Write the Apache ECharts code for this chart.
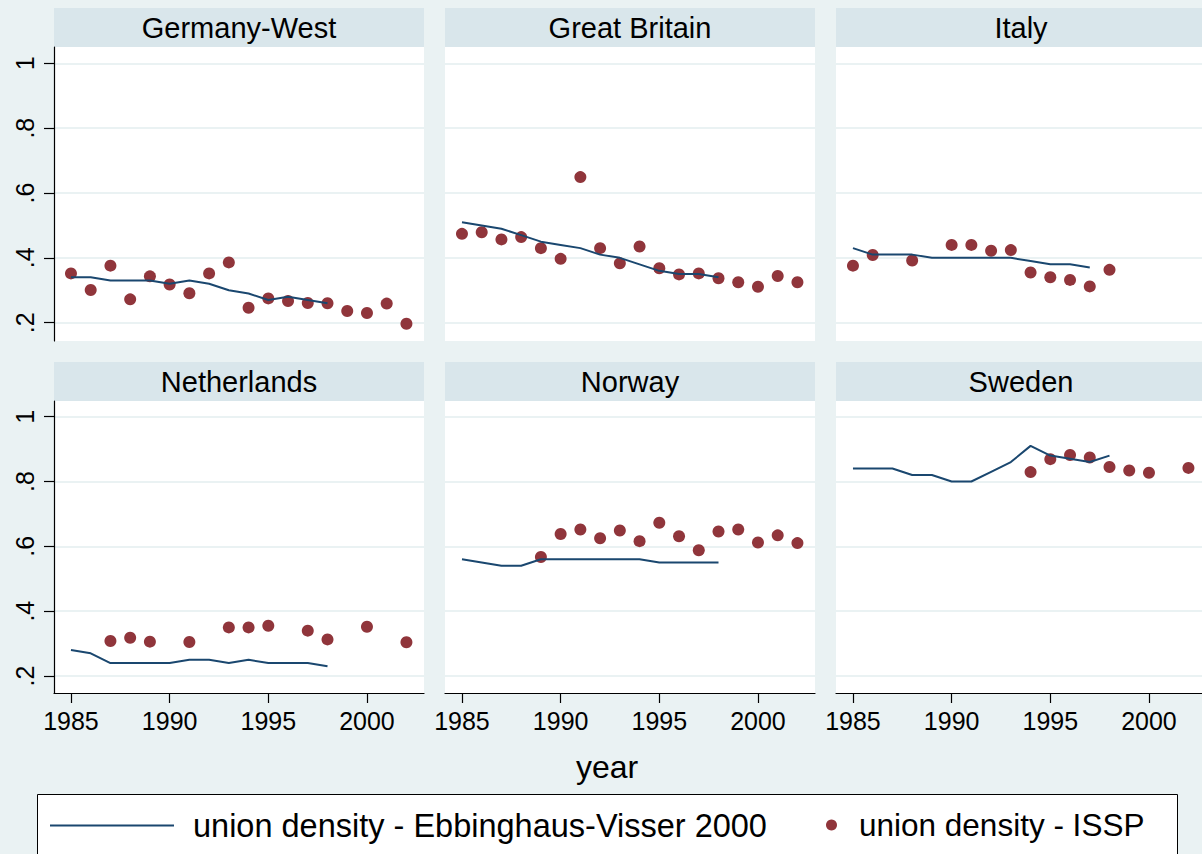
<!DOCTYPE html>
<html>
<head>
<meta charset="utf-8">
<title>union density</title>
<script src="https://cdn.jsdelivr.net/npm/echarts@6/dist/echarts.min.js"></script>
<style>
  html, body { margin: 0; padding: 0; background: #eaf2f3; }
  #chart { width: 1202px; height: 854px; }
</style>
</head>
<body>
<div id="chart"></div>
<script>
// years 1985..2002, null = no observation
const years = [1985, 1986, 1987, 1988, 1989, 1990, 1991, 1992, 1993, 1994, 1995, 1996, 1997, 1998, 1999, 2000, 2001, 2002]

// union density - Ebbinghaus-Visser 2000 (1985..1998)
const evGermany = [0.34, 0.34, 0.33, 0.33, 0.33, 0.32, 0.33, 0.32, 0.30, 0.29, 0.27, 0.28, 0.27, 0.26]
const evBritain = [0.51, 0.50, 0.49, 0.47, 0.45, 0.44, 0.43, 0.41, 0.40, 0.38, 0.36, 0.35, 0.35, 0.34]
const evItaly = [0.43, 0.41, 0.41, 0.41, 0.40, 0.40, 0.40, 0.40, 0.40, 0.39, 0.38, 0.38, 0.37]
const evNetherlands = [0.28, 0.27, 0.24, 0.24, 0.24, 0.24, 0.25, 0.25, 0.24, 0.25, 0.24, 0.24, 0.24, 0.23]
const evNorway = [0.56, 0.55, 0.54, 0.54, 0.56, 0.56, 0.56, 0.56, 0.56, 0.56, 0.55, 0.55, 0.55, 0.55]
const evSweden = [0.84, 0.84, 0.84, 0.82, 0.82, 0.80, 0.80, 0.83, 0.86, 0.91, 0.88, 0.87, 0.86, 0.88]

// union density - ISSP (1985..2002)
const isspGermany = [0.352, 0.301, 0.376, 0.272, 0.343, 0.318, 0.291, 0.352, 0.386, 0.246, 0.275, 0.267, 0.261, 0.260, 0.236, 0.230, 0.259, 0.197]
const isspBritain = [0.474, 0.479, 0.457, 0.464, 0.430, 0.397, 0.649, 0.430, 0.383, 0.435, 0.368, 0.349, 0.352, 0.337, 0.325, 0.311, 0.344, 0.325]
const isspItaly = [0.376, 0.409, null, 0.392, null, 0.440, 0.440, 0.422, 0.424, 0.355, 0.340, 0.332, 0.312, 0.363, null, null, null, null]
const isspNetherlands = [null, null, 0.308, 0.318, 0.306, null, 0.305, null, 0.350, 0.350, 0.355, null, 0.340, 0.313, null, 0.352, null, 0.304]
const isspNorway = [null, null, null, null, 0.567, 0.638, 0.652, 0.625, 0.649, 0.616, 0.673, 0.631, 0.588, 0.646, 0.652, 0.612, 0.634, 0.610]
const isspSweden = [null, null, null, null, null, null, null, null, null, 0.829, 0.869, 0.882, 0.874, 0.845, 0.834, 0.827, null, 0.842]

const countryNames = ['Germany-West', 'Great Britain', 'Italy', 'Netherlands', 'Norway', 'Sweden']
const evData = [evGermany, evBritain, evItaly, evNetherlands, evNorway, evSweden]
const isspData = [isspGermany, isspBritain, isspItaly, isspNetherlands, isspNorway, isspSweden]

const xTicks = [1985, 1990, 1995, 2000]
const yTicks = [0.2, 0.4, 0.6, 0.8, 1]

const EV_NAME = 'union density - Ebbinghaus-Visser 2000'
const ISSP_NAME = 'union density - ISSP'
const NAVY = '#1a476f'
const MAROON = '#90353b'
const FONT = '"Liberation Sans", Arial, Helvetica, sans-serif'

// panel layout
const panelLeft = [54, 445, 836]
const panelWidth = 370
const rowTop = [47, 401]
const rowHeight = [294, 292]
const stripTop = [8, 362]
const stripHeight = 39
const yRange = [[0.1436, 1.0503], [0.1476, 1.0484]]

const toPairs = (arr) => arr
  .map((v, i) => [years[i], v])
  .filter(p => p[1] !== null && p[1] !== undefined)

const yLabel = (v) => (v === 1 ? '1' : String(v).replace(/^0/, ''))

const grid = []
const xAxis = []
const yAxis = []
const series = []
const graphic = []

countryNames.forEach((name, i) => {
  const row = Math.floor(i / 3)
  const col = i % 3
  const left = panelLeft[col]

  grid.push({
    left: left,
    top: rowTop[row],
    width: panelWidth,
    height: rowHeight[row],
    show: true,
    backgroundColor: '#ffffff',
    borderWidth: 0,
    containLabel: false,
    outerBoundsMode: 'none'
  })

  const bottomRow = row === 1
  xAxis.push({
    type: 'value',
    gridIndex: i,
    min: 1984.14,
    max: 2002.89,
    axisLine: { show: bottomRow, onZero: false, lineStyle: { color: '#000', width: 1.2 } },
    axisTick: { show: bottomRow, length: 10, customValues: xTicks, lineStyle: { color: '#000', width: 1.2 } },
    axisLabel: {
      show: bottomRow,
      customValues: xTicks,
      margin: 15,
      color: '#000',
      fontSize: 25,
      fontFamily: FONT,
      formatter: (v) => String(v)
    },
    splitLine: { show: false }
  })

  const firstCol = col === 0
  yAxis.push({
    type: 'value',
    gridIndex: i,
    min: yRange[row][0],
    max: yRange[row][1],
    axisLine: { show: firstCol, onZero: false, lineStyle: { color: '#000', width: 1.2 } },
    axisTick: { show: firstCol, length: 10, customValues: yTicks, lineStyle: { color: '#000', width: 1.2 } },
    axisLabel: {
      show: firstCol,
      customValues: yTicks,
      rotate: 90,
      margin: 17,
      color: '#000',
      fontSize: 25,
      fontFamily: FONT,
      formatter: yLabel
    },
    splitLine: { show: true, lineStyle: { color: '#eaf2f3', width: 2 } }
  })

  series.push({
    name: EV_NAME,
    type: 'line',
    xAxisIndex: i,
    yAxisIndex: i,
    data: toPairs(evData[i]),
    symbol: 'none',
    lineStyle: { color: NAVY, width: 2 },
    itemStyle: { color: NAVY },
    animation: false
  })
  series.push({
    name: ISSP_NAME,
    type: 'scatter',
    xAxisIndex: i,
    yAxisIndex: i,
    data: toPairs(isspData[i]),
    symbol: 'circle',
    symbolSize: 12,
    itemStyle: { color: MAROON, opacity: 1 },
    animation: false
  })

  // strip header
  graphic.push({
    type: 'rect',
    shape: { x: left, y: stripTop[row], width: panelWidth, height: stripHeight },
    style: { fill: '#d9e6eb' },
    silent: true
  })
  graphic.push({
    type: 'text',
    x: left + panelWidth / 2,
    y: stripTop[row] + stripHeight / 2,
    style: {
      text: name,
      align: 'center',
      verticalAlign: 'middle',
      fontSize: 29,
      fontFamily: FONT,
      fill: '#000'
    },
    silent: true
  })
})

// x title
graphic.push({
  type: 'text',
  x: 607,
  y: 767,
  style: {
    text: 'year',
    align: 'center',
    verticalAlign: 'middle',
    fontSize: 32,
    fontFamily: FONT,
    fill: '#000'
  },
  silent: true
})

// legend box
graphic.push({
  type: 'rect',
  shape: { x: 37.5, y: 794.5, width: 1140, height: 80 },
  style: { fill: '#ffffff', stroke: '#000', lineWidth: 1 },
  silent: true
})

const chart = echarts.init(document.getElementById('chart'), null, { renderer: 'svg' })

chart.setOption({
  backgroundColor: '#eaf2f3',
  animation: false,
  grid: grid,
  xAxis: xAxis,
  yAxis: yAxis,
  graphic: graphic,
  legend: [
    {
      data: [{ name: EV_NAME, icon: 'rect' }],
      left: 45,
      top: 804,
      itemWidth: 124,
      itemHeight: 2,
      selectedMode: false,
      itemStyle: { color: NAVY },
      textStyle: { color: '#000', fontSize: 32.5, fontFamily: FONT, padding: [0, 0, 0, 14] }
    },
    {
      data: [ISSP_NAME],
      left: 821,
      top: 804,
      itemWidth: 11,
      itemHeight: 11,
      selectedMode: false,
      textStyle: { color: '#000', fontSize: 31.5, fontFamily: FONT, padding: [0, 0, 0, 17] }
    }
  ],
  series: series
})
</script>
</body>
</html>
